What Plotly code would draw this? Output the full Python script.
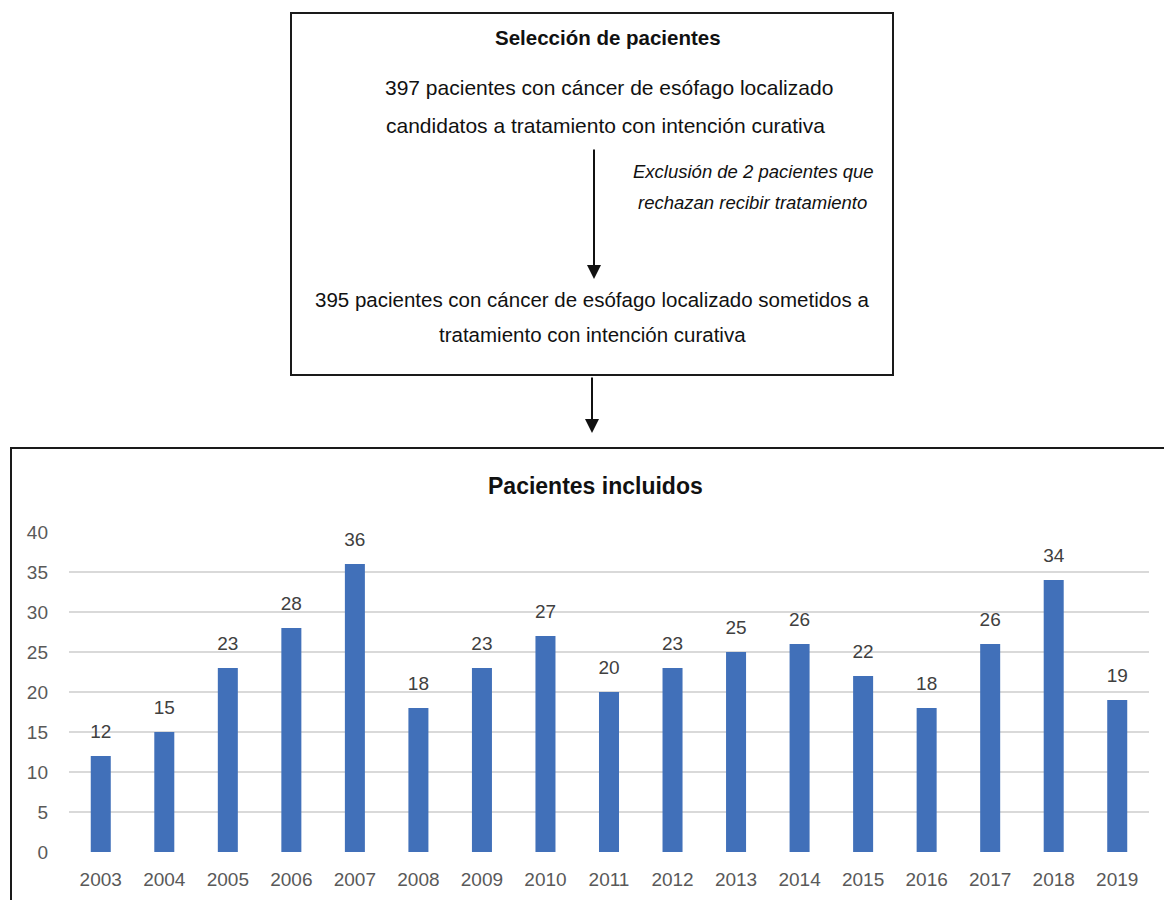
import plotly.graph_objects as go

# Patients included per year
years = ["2003", "2004", "2005", "2006", "2007", "2008", "2009", "2010", "2011",
         "2012", "2013", "2014", "2015", "2016", "2017", "2018", "2019"]
patients = [12, 15, 23, 28, 36, 18, 23, 27, 20, 23, 25, 26, 22, 18, 26, 34, 19]
y_ticks = [0, 5, 10, 15, 20, 25, 30, 35, 40]

FONT = "Liberation Sans, Arial, sans-serif"

W, H = 1164, 900
PL, PR, PT, PB = 69, 1149, 532, 852  # plot area in pixels


def px(x):
    return (x - PL) / (PR - PL)


def py(y):
    return (PB - y) / (PB - PT)


fig = go.Figure()
fig.add_trace(go.Bar(
    x=years, y=patients,
    marker=dict(color="#4170B9", line=dict(width=0)),
    hoverinfo="x+y",
))
# value labels above each bar (invisible marker keeps them clear of the bar top)
fig.add_trace(go.Scatter(
    x=years, y=patients,
    mode="markers+text",
    marker=dict(size=20, opacity=0),
    text=[str(v) for v in patients],
    textposition="top center",
    textfont=dict(family=FONT, size=19, color="#404040"),
    cliponaxis=False,
    hoverinfo="skip",
))

shapes = [
    # selection box
    dict(type="rect", xref="paper", yref="paper",
         x0=px(291), x1=px(893), y0=py(13), y1=py(375),
         line=dict(color="#1a1a1a", width=2), fillcolor="rgba(0,0,0,0)"),
    # chart frame
    dict(type="rect", xref="paper", yref="paper",
         x0=px(11), x1=px(1175), y0=py(448), y1=py(910),
         line=dict(color="#1a1a1a", width=2), fillcolor="rgba(0,0,0,0)", layer="below"),
]

annotations = []


def text(x, y, s, size, bold=False, italic=False, color="#111111"):
    annotations.append(dict(
        xref="paper", yref="paper", x=px(x), y=py(y), text=s, showarrow=False,
        xanchor="center", yanchor="middle",
        font=dict(family=FONT, size=size, color=color,
                  weight="bold" if bold else "normal",
                  style="italic" if italic else "normal"),
    ))


def arrow(x, y0, y1):
    annotations.append(dict(
        xref="paper", yref="paper", axref="pixel", ayref="pixel",
        x=px(x), y=py(y1), ax=0, ay=-(y1 - y0), text="", showarrow=True,
        arrowhead=2, arrowsize=1.4, arrowwidth=2, arrowcolor="#111111",
    ))


text(608, 38, "Selección de pacientes", 20.5, bold=True)
text(609, 87, "397 pacientes con cáncer de esófago localizado", 21)
text(605, 125, "candidatos a tratamiento con intención curativa", 21)
text(753, 171, "Exclusión de 2 pacientes que", 18.5, italic=True)
text(752, 203, "rechazan recibir tratamiento", 18.5, italic=True)
text(592, 299, "395 pacientes con cáncer de esófago localizado sometidos a", 20.5)
text(592, 334, "tratamiento con intención curativa", 20.5)
text(595, 486, "Pacientes incluidos", 23, bold=True)

arrow(594, 148, 279)
arrow(592, 376, 433)

fig.update_layout(
    width=W, height=H,
    margin=dict(l=PL, r=W - PR, t=PT, b=H - PB, pad=0, autoexpand=False),
    paper_bgcolor="white", plot_bgcolor="white",
    showlegend=False,
    bargap=0.685,
    shapes=shapes,
    annotations=annotations,
    font=dict(family=FONT),
    xaxis=dict(
        type="category", range=[-0.5, len(years) - 0.5],
        showgrid=False, showline=False, zeroline=False, ticks="",
        tickfont=dict(family=FONT, size=19, color="#595959"),
        ticklabelstandoff=14, automargin=False,
    ),
    yaxis=dict(
        range=[0, 40], tickvals=y_ticks, showgrid=True, gridcolor="#D9D9D9", gridwidth=2,
        zeroline=False, showline=False, ticks="",
        tickfont=dict(family=FONT, size=19, color="#595959"),
        ticklabelstandoff=20, automargin=False,
    ),
)

fig.write_html("out.html")
